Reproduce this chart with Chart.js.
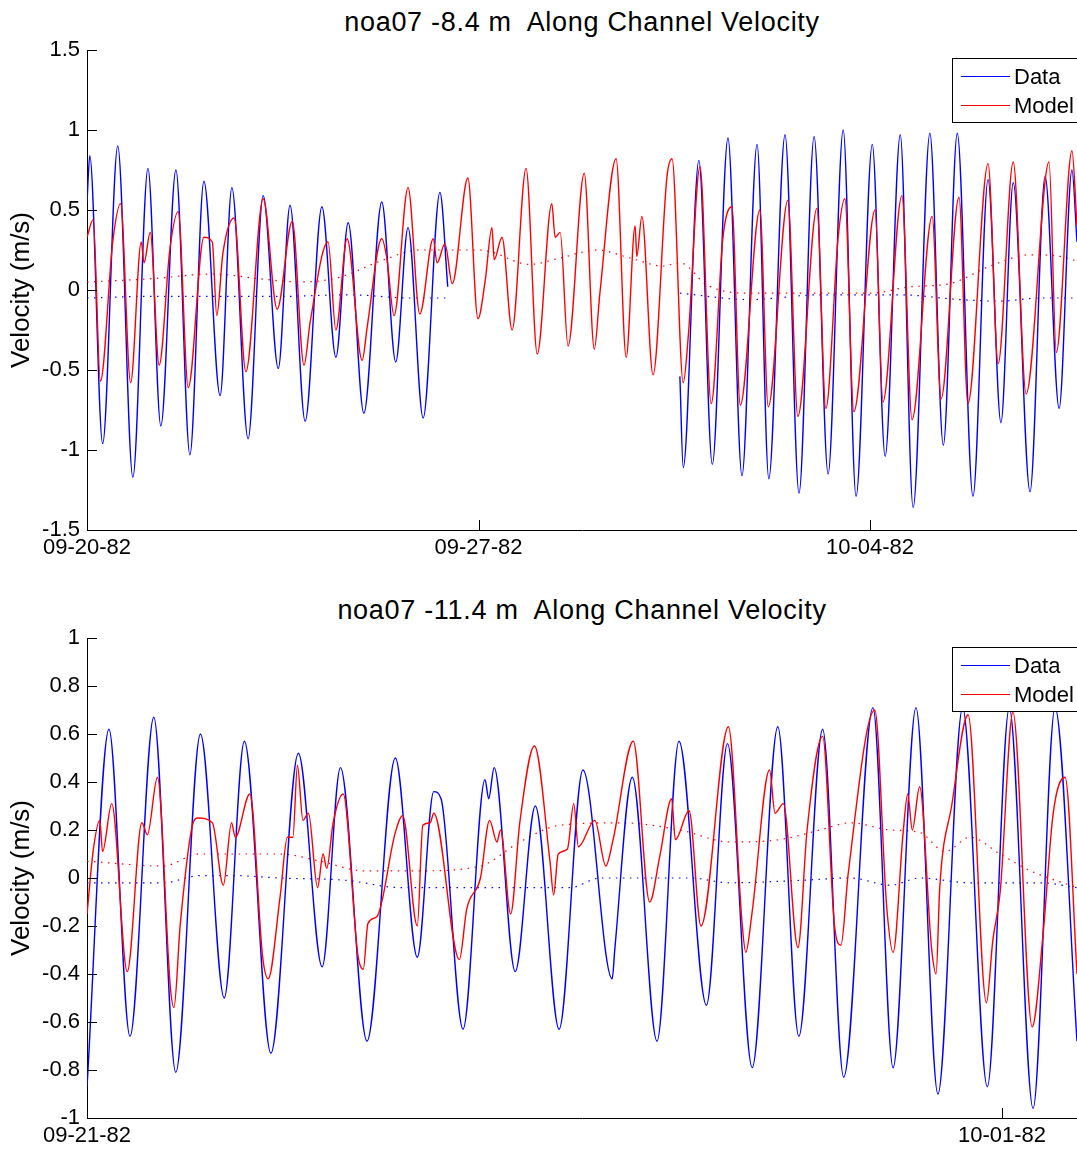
<!DOCTYPE html>
<html>
<head>
<meta charset="utf-8">
<script src="https://cdn.jsdelivr.net/npm/chart.js@4.4.1/dist/chart.umd.min.js"></script>
<style>
    html, body { margin: 0; padding: 0; background: #fff; }
    body { width: 1077px; height: 1150px; position: relative; overflow: hidden; font-family: "Liberation Sans", Arial, sans-serif; }
    .plot { position: absolute; left: 0; }
    .title { position: absolute; left: 87px; width: 990px; text-align: center; font-size: 27px; line-height: 32px; letter-spacing: 0.7px; color: #000; white-space: pre; }
</style>
</head>
<body>

<div class="title" style="top:6px">noa07 -8.4 m  Along Channel Velocity</div>
<canvas id="topChart" class="plot" style="top:0" width="1077" height="580"></canvas>

<div class="title" style="top:594px">noa07 -11.4 m  Along Channel Velocity</div>
<canvas id="botChart" class="plot" style="top:580px" width="1077" height="570"></canvas>

<script>
/* ================= DATA : TOP (-8.4 m), time in days from 09-20-82 ================= */

const topTicks = [0, 7, 14];
const topTickLabels = ["09-20-82", "09-27-82", "10-04-82"];

const topDataT = [0, 0.05, 0.28, 0.55, 0.82, 1.09, 1.32, 1.59, 1.84, 2.09, 2.38, 2.59, 2.88, 3.15, 3.42, 3.63, 3.90, 4.20, 4.45, 4.67, 4.95, 5.27, 5.52, 5.74, 6.01, 6.31, 6.45, 6.5, 10.60, 10.66, 10.94, 11.18, 11.46, 11.71, 11.98, 12.19, 12.48, 12.73, 13.00, 13.25, 13.52, 13.75, 14.04, 14.27, 14.54, 14.77, 15.07, 15.31, 15.56, 15.84, 16.11, 16.34, 16.56, 16.86, 17.13, 17.38, 17.61, 17.70];
const topDataV = [0.55, 0.84, -0.96, 0.90, -1.17, 0.76, -0.85, 0.75, -1.03, 0.68, -0.66, 0.64, -0.93, 0.59, -0.49, 0.53, -0.82, 0.52, -0.42, 0.42, -0.77, 0.55, -0.45, 0.39, -0.80, 0.61, 0.02, null, -0.54, -1.11, 0.81, -1.09, 0.95, -1.16, 0.91, -1.18, 0.97, -1.27, 0.96, -1.15, 1.00, -1.29, 0.91, -1.04, 0.97, -1.36, 0.98, -0.97, 0.98, -1.29, 0.69, -0.83, 0.67, -1.26, 0.71, -0.74, 0.75, 0.30];

const topModelT = [0, 0.11, 0.24, 0.46, 0.60, 0.78, 0.97, 1.02, 1.13, 1.29, 1.48, 1.63, 1.81, 2.09, 2.24, 2.32, 2.43, 2.63, 2.84, 3.15, 3.40, 3.67, 3.88, 3.99, 4.31, 4.45, 4.65, 4.92, 5.01, 5.27, 5.36, 5.49, 5.74, 5.95, 6.19, 6.26, 6.40, 6.53, 6.81, 6.99, 7.12, 7.24, 7.28, 7.42, 7.60, 7.85, 8.05, 8.31, 8.37, 8.46, 8.60, 8.89, 9.07, 9.17, 9.46, 9.64, 9.80, 9.83, 9.92, 10.12, 10.37, 10.46, 10.66, 10.75, 10.96, 11.16, 11.37, 11.53, 11.68, 12.03, 12.18, 12.53, 12.71, 13.05, 13.21, 13.43, 13.55, 13.71, 14.09, 14.23, 14.57, 14.75, 15.11, 15.27, 15.59, 15.75, 16.11, 16.29, 16.56, 16.79, 17.20, 17.33, 17.61, 17.70];
const topModelV = [0.33, 0.44, -0.57, 0.30, 0.54, -0.58, 0.30, 0.17, 0.36, -0.47, 0.25, 0.49, -0.61, 0.33, 0.30, -0.16, 0.23, 0.45, -0.51, 0.57, -0.12, 0.43, -0.47, -0.20, 0.30, -0.25, 0.32, -0.44, -0.23, 0.32, 0.20, -0.16, 0.64, -0.15, 0.32, 0.17, 0.29, 0.04, 0.70, -0.18, 0.06, 0.39, 0.19, 0.33, -0.25, 0.76, -0.40, 0.54, 0.33, 0.36, -0.35, 0.73, -0.37, -0.02, 0.82, -0.42, 0.40, 0.21, 0.46, -0.53, 0.71, 0.82, -0.58, -0.29, 0.77, -0.71, 0.33, 0.52, -0.72, 0.50, -0.73, 0.56, -0.79, 0.51, -0.74, 0.33, 0.57, -0.76, 0.50, -0.70, 0.59, -0.81, 0.46, -0.68, 0.58, -0.71, 0.79, -0.46, 0.80, -0.65, 0.80, -0.39, 0.87, 0.40];

// low-pass (subtidal) curves, dotted
const topDataLowT = [0, 1.13, 2.25, 3.45, 4.70, 5.78, 6.45, 6.5, 10.60, 11.85, 13.11, 14.54, 15.61, 16.32, 17.04, 17.70];
const topDataLowV = [-0.05, -0.04, -0.04, -0.04, -0.03, -0.05, -0.05, null, -0.02, -0.06, -0.03, -0.03, -0.06, -0.07, -0.05, -0.05];
const topModelLowT = [0, 1.13, 2.25, 3.09, 3.81, 4.52, 5.24, 5.95, 7.03, 7.92, 8.46, 9.12, 9.71, 10.30, 10.60, 11.09, 11.80, 12.75, 14.00, 14.72, 15.43, 16.15, 16.86, 17.40, 17.70];
const topModelLowV = [0.05, 0.07, 0.10, 0.07, 0.05, 0.08, 0.18, 0.25, 0.25, 0.16, 0.20, 0.25, 0.20, 0.15, 0.17, 0.03, -0.02, -0.02, -0.02, 0.02, 0.04, 0.15, 0.22, 0.21, 0.18];

/* ================= DATA : BOTTOM (-11.4 m), time in days from 09-21-82 ================= */

const botTicks = [0, 10];
const botTickLabels = ["09-21-82", "10-01-82"];

const botDataT = [0, 0.24, 0.47, 0.73, 0.97, 1.24, 1.50, 1.72, 2.01, 2.31, 2.57, 2.77, 3.06, 3.37, 3.61, 3.79, 3.87, 4.11, 4.35, 4.39, 4.45, 4.68, 4.90, 5.16, 5.42, 5.74, 5.77, 5.96, 6.23, 6.47, 6.77, 7.00, 7.27, 7.55, 7.78, 8.04, 8.27, 8.59, 8.81, 9.06, 9.30, 9.57, 9.84, 10.08, 10.34, 10.58, 10.82];
const botDataV = [-0.87, 0.62, -0.66, 0.67, -0.81, 0.60, -0.50, 0.57, -0.73, 0.52, -0.37, 0.46, -0.68, 0.50, -0.33, 0.36, 0.33, -0.63, 0.41, 0.33, 0.46, -0.39, 0.30, -0.63, 0.45, -0.42, -0.29, 0.42, -0.68, 0.57, -0.53, 0.56, -0.79, 0.63, -0.66, 0.62, -0.83, 0.71, -0.79, 0.71, -0.90, 0.71, -0.87, 0.71, -0.96, 0.71, -0.68];

const botModelT = [0, 0.07, 0.14, 0.17, 0.27, 0.44, 0.60, 0.66, 0.77, 0.91, 0.95, 1.02, 1.16, 1.21, 1.37, 1.49, 1.58, 1.62, 1.78, 1.92, 1.98, 2.11, 2.19, 2.25, 2.30, 2.36, 2.42, 2.52, 2.58, 2.62, 2.69, 2.80, 2.96, 3.02, 3.07, 3.17, 3.37, 3.45, 3.61, 3.67, 3.75, 3.79, 4.07, 4.15, 4.30, 4.40, 4.48, 4.52, 4.63, 4.73, 4.89, 5.06, 5.10, 5.15, 5.25, 5.32, 5.37, 5.55, 5.67, 5.75, 5.97, 6.15, 6.26, 6.39, 6.43, 6.58, 6.71, 7.01, 7.16, 7.20, 7.27, 7.46, 7.52, 7.61, 7.77, 7.87, 8.04, 8.17, 8.24, 8.32, 8.61, 8.74, 8.81, 8.92, 8.97, 9.02, 9.10, 9.23, 9.28, 9.32, 9.45, 9.63, 9.83, 9.90, 9.98, 10.12, 10.33, 10.45, 10.56, 10.69, 10.82];
const botModelV = [-0.15, 0.12, 0.24, 0.11, 0.31, -0.39, 0.23, 0.18, 0.42, -0.45, -0.54, -0.19, 0.23, 0.25, 0.23, -0.03, 0.23, 0.17, 0.35, -0.33, -0.42, -0.08, 0.17, 0.17, 0.47, 0.24, 0.27, -0.04, 0.10, 0.04, 0.23, 0.35, -0.32, -0.38, -0.19, -0.16, 0.19, 0.26, -0.20, 0.22, 0.23, 0.27, -0.34, -0.13, 0.00, 0.24, 0.15, 0.20, -0.15, 0.23, 0.55, 0.07, -0.07, 0.10, 0.12, 0.31, 0.13, 0.24, 0.05, 0.16, 0.57, -0.10, 0.09, 0.33, 0.16, 0.28, -0.20, 0.63, -0.19, -0.31, -0.14, 0.45, 0.27, 0.31, -0.29, 0.20, 0.59, -0.20, -0.28, 0.02, 0.70, -0.12, -0.31, 0.19, 0.35, 0.20, 0.38, -0.29, -0.40, -0.04, 0.30, 0.68, -0.52, -0.26, -0.06, 0.69, -0.62, -0.23, 0.27, 0.42, -0.40];

const botDataLowT = [0, 0.83, 1.23, 1.60, 2.11, 2.84, 3.42, 4.30, 5.28, 5.61, 6.59, 7.03, 7.79, 8.34, 8.78, 9.10, 9.65, 10.42, 10.82];
const botDataLowV = [-0.02, -0.02, 0.01, 0.01, 0.00, -0.01, -0.04, -0.04, -0.04, 0.00, 0.00, -0.02, -0.01, 0.00, -0.03, 0.00, -0.02, -0.02, -0.04];
const botModelLowT = [0, 0.83, 1.23, 2.11, 2.55, 3.02, 3.64, 4.30, 4.73, 5.17, 5.83, 6.48, 7.03, 7.57, 8.01, 8.34, 8.78, 9.10, 9.38, 9.65, 9.98, 10.31, 10.82];
const botModelLowV = [0.07, 0.05, 0.10, 0.10, 0.07, 0.03, 0.03, 0.05, 0.15, 0.22, 0.23, 0.20, 0.15, 0.16, 0.20, 0.23, 0.20, 0.19, 0.11, 0.17, 0.10, 0.03, -0.04];

/* ================= STYLE ================= */

const BLUE = "#0000ff";
const RED = "#ff0000";
const FONT = '"Liberation Sans", Arial, sans-serif';

Chart.defaults.font.family = FONT;
Chart.defaults.color = "#000";

/* ================= PLUGINS ================= */

// MATLAB style tick marks, drawn inside the axes
const inwardTicks = {
    id: "inwardTicks",
    afterDatasetsDraw(chart) {
        const { ctx, scales: { x, y } } = chart;
        ctx.save();
        ctx.strokeStyle = "#000";
        ctx.lineWidth = 1;
        ctx.beginPath();
        y.ticks.forEach(t => {
            const py = Math.round(y.getPixelForValue(t.value)) + 0.5;
            ctx.moveTo(y.right, py);
            ctx.lineTo(y.right + 10, py);
        });
        x.ticks.forEach(t => {
            const px = Math.round(x.getPixelForValue(t.value)) + 0.5;
            ctx.moveTo(px, x.top);
            ctx.lineTo(px, x.top - 10);
        });
        ctx.stroke();
        ctx.restore();
    }
};

// boxed legend in the upper right corner
const boxLegend = {
    id: "boxLegend",
    afterDraw(chart, args, opts) {
        const { ctx, chartArea } = chart;
        const x = chartArea.right - 125;
        const y = chartArea.top + opts.top;
        ctx.save();
        ctx.fillStyle = "#fff";
        ctx.fillRect(x, y, 200, 64);
        ctx.strokeStyle = "#000";
        ctx.lineWidth = 1;
        ctx.strokeRect(Math.round(x) + 0.5, Math.round(y) + 0.5, 200, 64);

        const items = chart.data.datasets.filter(d => d.label);
        items.forEach((d, i) => {
            const ly = Math.round(y + 18 + i * 29) + 0.5;
            ctx.strokeStyle = d.borderColor;
            ctx.lineWidth = 1.2;
            ctx.beginPath();
            ctx.moveTo(x + 9, ly);
            ctx.lineTo(x + 58, ly);
            ctx.stroke();
            ctx.fillStyle = "#000";
            ctx.font = "22px " + FONT;
            ctx.textBaseline = "middle";
            ctx.fillText(d.label, x + 62, ly + 1);
        });
        ctx.restore();
    }
};

/* ================= HELPERS ================= */

function pts(t, v) {
    return t.map((x, i) => ({ x, y: v[i] }));
}

function fmtY(v) {
    const r = Math.round(v * 10) / 10;
    return Math.abs(r) < 1e-9 ? "0" : String(r);
}

function solid(label, t, v, color, order) {
    return {
        label,
        data: pts(t, v),
        borderColor: color,
        borderWidth: 1.4,
        pointRadius: 0,
        cubicInterpolationMode: "monotone",
        spanGaps: false,
        order
    };
}

function dotted(t, v, color) {
    return {
        data: pts(t, v),
        borderColor: color,
        borderWidth: 1.2,
        borderDash: [1.5, 5.5],
        pointRadius: 0,
        cubicInterpolationMode: "monotone",
        spanGaps: false,
        order: 3
    };
}

function makeChart(id, cfg) {
    return new Chart(document.getElementById(id), {
        type: "line",
        data: {
            datasets: [
                solid("Data", cfg.dataT, cfg.dataV, BLUE, 2),
                solid("Model", cfg.modelT, cfg.modelV, RED, 1),
                dotted(cfg.dataLowT, cfg.dataLowV, BLUE),
                dotted(cfg.modelLowT, cfg.modelLowV, RED)
            ]
        },
        options: {
            responsive: false,
            animation: false,
            layout: { padding: { top: cfg.padTop, right: 0, bottom: 0, left: 0 } },
            plugins: {
                legend: { display: false },
                tooltip: { enabled: false },
                boxLegend: { top: cfg.legendTop }
            },
            scales: {
                x: {
                    type: "linear",
                    min: 0,
                    max: cfg.xMax,
                    grid: { display: false, drawTicks: false },
                    border: { display: true, color: "#000", width: 1 },
                    afterBuildTicks: s => { s.ticks = cfg.ticks.map(v => ({ value: v })); },
                    afterFit: s => { s.height = cfg.xHeight; },
                    ticks: {
                        autoSkip: false,
                        maxRotation: 0,
                        padding: 5,
                        font: { size: 22 },
                        callback: (v, i) => cfg.tickLabels[i]
                    }
                },
                y: {
                    min: cfg.yMin,
                    max: cfg.yMax,
                    grid: { display: false, drawTicks: false },
                    border: { display: true, color: "#000", width: 1 },
                    afterFit: s => { s.width = 87; },
                    ticks: {
                        stepSize: cfg.yStep,
                        padding: 7,
                        font: { size: 22 },
                        callback: v => fmtY(v)
                    },
                    title: {
                        display: true,
                        text: "Velocity (m/s)",
                        font: { size: 26 },
                        padding: { top: 6, bottom: 0 }
                    }
                }
            }
        },
        plugins: [inwardTicks, boxLegend]
    });
}

/* ================= RENDER ================= */

makeChart("topChart", {
    dataT: topDataT, dataV: topDataV,
    modelT: topModelT, modelV: topModelV,
    dataLowT: topDataLowT, dataLowV: topDataLowV,
    modelLowT: topModelLowT, modelLowV: topModelLowV,
    ticks: topTicks, tickLabels: topTickLabels,
    xMax: 17.70, yMin: -1.5, yMax: 1.5, yStep: 0.5,
    padTop: 50, xHeight: 50, legendTop: 8
});

makeChart("botChart", {
    dataT: botDataT, dataV: botDataV,
    modelT: botModelT, modelV: botModelV,
    dataLowT: botDataLowT, dataLowV: botDataLowV,
    modelLowT: botModelLowT, modelLowV: botModelLowV,
    ticks: botTicks, tickLabels: botTickLabels,
    xMax: 10.82, yMin: -1, yMax: 1, yStep: 0.2,
    padTop: 58, xHeight: 32, legendTop: 9
});
</script>
</body>
</html>
